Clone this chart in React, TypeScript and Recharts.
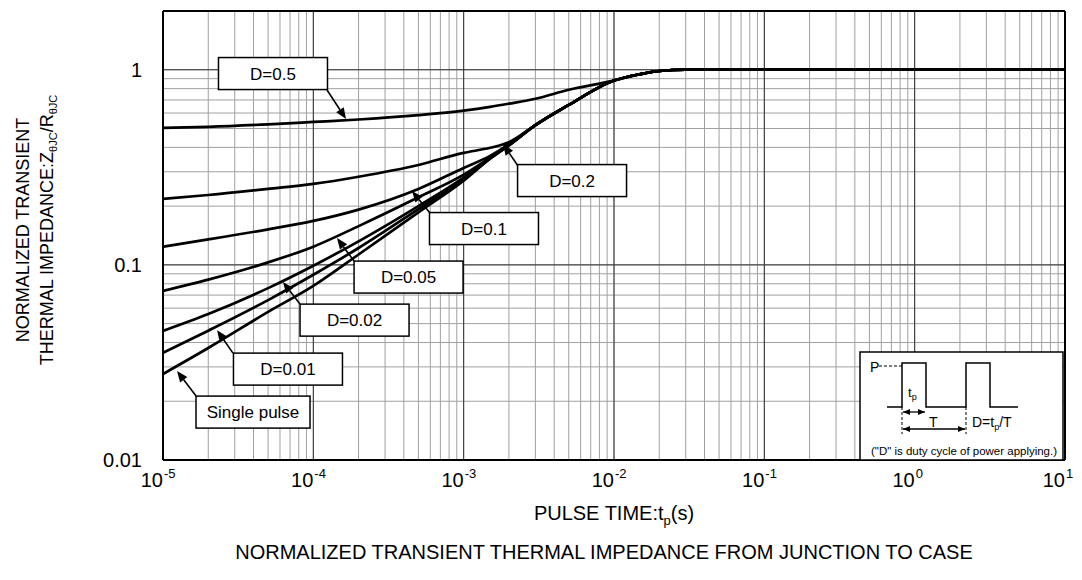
import React from "react";
import { LineChart, Line, XAxis, YAxis, CartesianGrid, ReferenceLine, ReferenceDot } from "recharts";

const FONT = "'Liberation Sans', Arial, sans-serif";

// pulse time t_p (s)
const PULSE_TIME = [1e-5, 2e-5, 5e-5, 1e-4, 2e-4, 5e-4, 1e-3, 1.5e-3, 2e-3, 3e-3, 5e-3, 1e-2, 1.5e-2, 2e-2, 3e-2, 1e-1, 1, 10];

// normalized Zth for each duty cycle
const Z_D050 = [0.504, 0.51, 0.525, 0.54, 0.556, 0.585, 0.617, 0.645, 0.67, 0.71, 0.79, 0.88, 0.95, 0.985, 1, 1, 1, 1];
const Z_D020 = [0.218, 0.228, 0.245, 0.26, 0.283, 0.325, 0.375, 0.398, 0.425, 0.52, 0.66, 0.88, 0.95, 0.985, 1, 1, 1, 1];
const Z_D010 = [0.124, 0.135, 0.152, 0.168, 0.192, 0.245, 0.314, 0.362, 0.414, 0.52, 0.66, 0.88, 0.95, 0.985, 1, 1, 1, 1];
const Z_D005 = [0.0736, 0.084, 0.103, 0.124, 0.158, 0.222, 0.29, 0.355, 0.412, 0.52, 0.66, 0.88, 0.95, 0.985, 1, 1, 1, 1];
const Z_D002 = [0.0459, 0.056, 0.076, 0.099, 0.132, 0.2, 0.28, 0.352, 0.41, 0.52, 0.66, 0.88, 0.95, 0.985, 1, 1, 1, 1];
const Z_D001 = [0.0354, 0.046, 0.066, 0.089, 0.122, 0.193, 0.275, 0.351, 0.41, 0.52, 0.66, 0.88, 0.95, 0.985, 1, 1, 1, 1];
const Z_SINGLE = [0.0276, 0.0375, 0.0574, 0.078, 0.113, 0.186, 0.27, 0.35, 0.41, 0.52, 0.66, 0.88, 0.95, 0.985, 1, 1, 1, 1];

const SERIES = [Z_D050, Z_D020, Z_D010, Z_D005, Z_D002, Z_D001, Z_SINGLE];

// callout boxes and their arrows (data coordinates)
const LABELS = ["D=0.5", "D=0.2", "D=0.1", "D=0.05", "D=0.02", "D=0.01", "Single pulse"];
const LABEL_T = [5.39e-5, 5.26e-3, 1.365e-3, 4.3e-4, 1.88e-4, 6.78e-5, 3.97e-5];
const LABEL_Z = [0.956, 0.2704, 0.1535, 0.0866, 0.0521, 0.02923, 0.0176];
const ARROW_FROM_T = [1.233e-4, 2.3e-3, 5.97e-4, 1.865e-4, 8.15e-5, 2.92e-5, 1.66e-5];
const ARROW_FROM_Z = [0.787, 0.321, 0.1843, 0.1046, 0.063, 0.0353, 0.02126];
const ARROW_TO_T = [1.65e-4, 1.83e-3, 4.53e-4, 1.437e-4, 6.28e-5, 2.29e-5, 1.24e-5];
const ARROW_TO_Z = [0.56, 0.416, 0.239, 0.1372, 0.0816, 0.0463, 0.02857];

// axis / grid
const X_DOMAIN = [1e-5, 10];
const Y_DOMAIN = [0.01, 2];
const X_DECADES = [-5, -4, -3, -2, -1, 0];
const Y_DECADES = [-2, -1];
const STEPS = [1, 2, 3, 4, 5, 6, 7, 8, 9];
const X_MAJOR = [1e-5, 1e-4, 1e-3, 1e-2, 1e-1, 1, 10];
const Y_MAJOR = [0.01, 0.1, 1];
const X_GRID = [...X_DECADES.flatMap((e) => STEPS.map((s) => s * Math.pow(10, e))), 10];
const Y_GRID = [...Y_DECADES.flatMap((e) => STEPS.map((s) => s * Math.pow(10, e))), 1, 2];

const isDecade = (v: number) => Math.abs(Math.log10(v) - Math.round(Math.log10(v))) < 1e-6;

function XTick({ x, y, payload }: any) {
  const v = payload.value;
  if (!isDecade(v)) return <g />;
  const e = Math.round(Math.log10(v));
  return (
    <g fontFamily={FONT} fill="#000">
      <text x={x} y={y + 27} fontSize={20} textAnchor="end">10</text>
      <text x={x + 1} y={y + 18} fontSize={13} textAnchor="start">{e}</text>
    </g>
  );
}

function YTick({ x, y, payload }: any) {
  const v = payload.value;
  if (!Y_MAJOR.includes(v)) return <g />;
  return (
    <text x={x - 21} y={y + 7} fontSize={20} textAnchor="end" fontFamily={FONT} fill="#000">
      {v >= 1 ? "1" : String(v)}
    </text>
  );
}

function YTitle() {
  return (
    <g fontFamily={FONT} fill="#000" fontSize={18}>
      <text x={29} y={230} textAnchor="middle" transform="rotate(-90 29 230)">NORMALIZED TRANSIENT</text>
      <text x={53} y={230} textAnchor="middle" transform="rotate(-90 53 230)">
        THERMAL IMPEDANCE:Z
        <tspan fontSize={11} dy={4}>θJC</tspan>
        <tspan dy={-4}>/R</tspan>
        <tspan fontSize={11} dy={4}>θJC</tspan>
      </text>
    </g>
  );
}

function XTitle() {
  return (
    <g fontFamily={FONT} fill="#000" fontSize={20}>
      <text x={614} y={520} textAnchor="middle">
        PULSE TIME:t<tspan fontSize={13} dy={5}>p</tspan>
        <tspan dy={-5}>(s)</tspan>
      </text>
      <text x={604} y={559} textAnchor="middle">
        NORMALIZED TRANSIENT THERMAL IMPEDANCE FROM JUNCTION TO CASE
      </text>
    </g>
  );
}

function Callout({ cx, cy, text }: any) {
  const w = text.length > 8 ? 114 : 109;
  const h = 32;
  return (
    <g>
      <rect x={cx - w / 2} y={cy - h / 2} width={w} height={h} fill="#fff" stroke="#000" strokeWidth={1.5} />
      <text x={cx} y={cy + 6} textAnchor="middle" fontSize={17} fontFamily={FONT} fill="#000">
        {text}
      </text>
    </g>
  );
}

function Arrow({ x1, y1, x2, y2 }: any) {
  const dx = x2 - x1;
  const dy = y2 - y1;
  const len = Math.sqrt(dx * dx + dy * dy) || 1;
  const ux = dx / len;
  const uy = dy / len;
  const hl = 11;
  const hw = 4.5;
  const bx = x2 - ux * hl;
  const by = y2 - uy * hl;
  return (
    <g>
      <line x1={x1} y1={y1} x2={bx} y2={by} stroke="#000" strokeWidth={1.6} />
      <polygon
        points={`${x2},${y2} ${bx - uy * hw},${by + ux * hw} ${bx + uy * hw},${by - ux * hw}`}
        fill="#000"
      />
    </g>
  );
}

function Inset() {
  return (
    <svg
      width={1082}
      height={580}
      style={{ position: "absolute", left: 0, top: 0, pointerEvents: "none" }}
      fontFamily={FONT}
    >
      <defs>
        <marker id="ah" markerWidth="8" markerHeight="8" refX="7" refY="4" orient="auto-start-reverse" markerUnits="userSpaceOnUse">
          <path d="M0,1 L7,4 L0,7 Z" fill="#000" />
        </marker>
      </defs>
      <rect x={860} y={352} width={203} height={108} fill="#fff" stroke="#000" strokeWidth={1.5} />
      <text x={870} y={372} fontSize={14}>P</text>
      <line x1={879} y1={366} x2={902} y2={366} stroke="#000" strokeWidth={1} strokeDasharray="3 2" />
      <path d="M887,407 H902 V363 H926 V407 H966 V363 H990 V407 H1018" fill="none" stroke="#000" strokeWidth={1.5} />
      <text x={908} y={397} fontSize={13}>
        t<tspan fontSize={9} dy={3}>p</tspan>
      </text>
      <line x1={902} y1={407} x2={902} y2={434} stroke="#000" strokeWidth={1} strokeDasharray="3 2" />
      <line x1={966} y1={407} x2={966} y2={434} stroke="#000" strokeWidth={1} strokeDasharray="3 2" />
      <line x1={903} y1={412} x2={925} y2={412} stroke="#000" strokeWidth={1.3} markerStart="url(#ah)" markerEnd="url(#ah)" />
      <line x1={903} y1={429} x2={965} y2={429} stroke="#000" strokeWidth={1.3} markerStart="url(#ah)" markerEnd="url(#ah)" />
      <text x={929} y={427} fontSize={14}>T</text>
      <text x={972} y={427} fontSize={14}>
        D=t<tspan fontSize={9} dy={3}>p</tspan>
        <tspan dy={-3}>/T</tspan>
      </text>
      <text x={871} y={455} fontSize={11} textLength={186} lengthAdjust="spacingAndGlyphs">
        ("D" is duty cycle of power applying.)
      </text>
    </svg>
  );
}

export default function App() {
  return (
    <div style={{ position: "absolute", left: 0, top: 0, width: 1082, height: 580, background: "#fff" }}>
      <LineChart width={1082} height={580} margin={{ top: 11, right: 17, bottom: 0, left: 0 }} style={{ fontFamily: FONT }}>
        <XAxis
          dataKey="t"
          type="number"
          scale="log"
          domain={X_DOMAIN}
          allowDataOverflow
          ticks={X_GRID}
          interval={0}
          height={120}
          tickSize={0}
          tickMargin={0}
          tickLine={false}
          axisLine={false}
          tick={<XTick />}
          label={<XTitle />}
        />
        <YAxis
          type="number"
          scale="log"
          domain={Y_DOMAIN}
          allowDataOverflow
          ticks={Y_GRID}
          interval={0}
          width={163}
          tickSize={0}
          tickMargin={0}
          tickLine={false}
          axisLine={false}
          tick={<YTick />}
          label={<YTitle />}
        />
        <XAxis xAxisId="maj" dataKey="t" type="number" scale="log" domain={X_DOMAIN} allowDataOverflow ticks={X_MAJOR} interval={0} hide />
        <YAxis yAxisId="maj" type="number" scale="log" domain={Y_DOMAIN} allowDataOverflow ticks={Y_MAJOR} interval={0} hide />
        <CartesianGrid stroke="#a0a0a0" strokeWidth={1} />
        <CartesianGrid xAxisId="maj" yAxisId="maj" stroke="#333" strokeWidth={1} />
        {SERIES.map((vals, i) => (
          <Line
            key={LABELS[i]}
            data={PULSE_TIME.map((t, k) => ({ t, z: vals[k] }))}
            dataKey="z"
            type="monotone"
            stroke="#000"
            strokeWidth={2.7}
            dot={false}
            isAnimationActive={false}
          />
        ))}
        <ReferenceLine x={X_DOMAIN[0]} stroke="#000" strokeWidth={2} />
        <ReferenceLine x={X_DOMAIN[1]} stroke="#000" strokeWidth={2} />
        <ReferenceLine y={Y_DOMAIN[0]} stroke="#000" strokeWidth={2} />
        <ReferenceLine y={Y_DOMAIN[1]} stroke="#000" strokeWidth={2} />
        {LABELS.map((lab, i) => (
          <ReferenceLine
            key={"a" + lab}
            segment={[
              { x: ARROW_FROM_T[i], y: ARROW_FROM_Z[i] },
              { x: ARROW_TO_T[i], y: ARROW_TO_Z[i] },
            ]}
            shape={(p: any) => <Arrow {...p} />}
          />
        ))}
        {LABELS.map((lab, i) => (
          <ReferenceDot
            key={"l" + lab}
            x={LABEL_T[i]}
            y={LABEL_Z[i]}
            r={1}
            shape={(p: any) => <Callout cx={p.cx} cy={p.cy} text={lab} />}
          />
        ))}
      </LineChart>
      <Inset />
    </div>
  );
}
